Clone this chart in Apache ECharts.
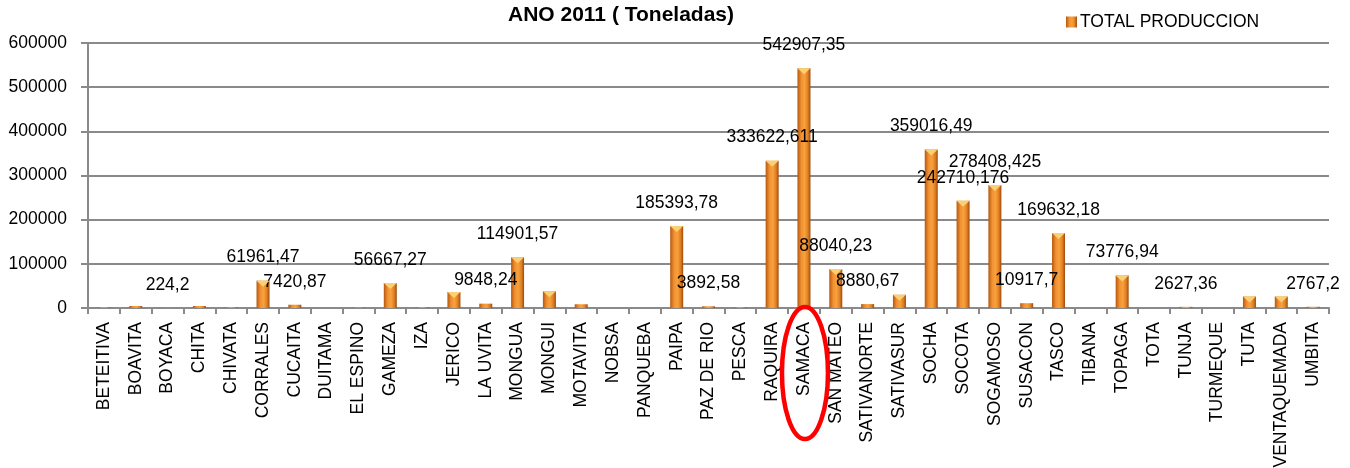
<!DOCTYPE html>
<html>
<head>
<meta charset="utf-8">
<script src="https://cdn.jsdelivr.net/npm/echarts@6/dist/echarts.min.js"></script>
<style>
  html, body { margin: 0; padding: 0; background: #ffffff; }
  #chart { width: 1350px; height: 468px; }
</style>
</head>
<body>
<div id="chart"></div>
<script>
// Producción por municipio, año 2011 (toneladas)
const municipios = [
  'BETEITIVA', 'BOAVITA', 'BOYACA', 'CHITA', 'CHIVATA', 'CORRALES', 'CUCAITA',
  'DUITAMA', 'EL ESPINO', 'GAMEZA', 'IZA', 'JERICO', 'LA UVITA', 'MONGUA',
  'MONGUI', 'MOTAVITA', 'NOBSA', 'PANQUEBA', 'PAIPA', 'PAZ DE RIO', 'PESCA',
  'RAQUIRA', 'SAMACA', 'SAN MATEO', 'SATIVANORTE', 'SATIVASUR', 'SOCHA',
  'SOCOTA', 'SOGAMOSO', 'SUSACON', 'TASCO', 'TIBANA', 'TOPAGA', 'TOTA',
  'TUNJA', 'TURMEQUE', 'TUTA', 'VENTAQUEMADA', 'UMBITA'
];

const produccion = [
  1800, 4500, 224.2, 4500, 1500, 61961.47, 7420.87,
  0, 1200, 56667.27, 1500, 36000, 9848.24, 114901.57,
  38000, 8500, 0, 0, 185393.78, 3892.58, 1500,
  333622.611, 542907.35, 88040.23, 8880.67, 30000, 359016.49,
  242710.176, 278408.425, 10917.7, 169632.18, 0, 73776.94, 0,
  2627.36, 0, 26000, 26000, 2767.2
];

// Municipios cuyo valor se rotula sobre la barra
const etiquetados = [
  'BOYACA', 'CORRALES', 'CUCAITA', 'GAMEZA', 'LA UVITA', 'MONGUA', 'PAIPA',
  'PAZ DE RIO', 'RAQUIRA', 'SAMACA', 'SAN MATEO', 'SATIVANORTE', 'SOCHA',
  'SOCOTA', 'SOGAMOSO', 'SUSACON', 'TASCO', 'TOPAGA', 'TUNJA', 'UMBITA'
];

const yTicks = [0, 100000, 200000, 300000, 400000, 500000, 600000];

const titulo = 'ANO 2011 ( Toneladas)';
const serieNombre = 'TOTAL PRODUCCION';
const resaltado = 'SAMACA';

const fuente = '"Liberation Sans", Arial, sans-serif';
const gris = '#8a8a8a';

const degradadoBarra = new echarts.graphic.LinearGradient(0, 0, 1, 0, [
  { offset: 0, color: '#b5580f' },
  { offset: 0.3, color: '#f29132' },
  { offset: 0.55, color: '#f7a23e' },
  { offset: 0.8, color: '#e07f22' },
  { offset: 1, color: '#9c4a0c' }
]);

const chart = echarts.init(document.getElementById('chart'), null, { renderer: 'canvas' });

chart.setOption({
  animation: false,
  backgroundColor: '#ffffff',
  title: {
    text: titulo,
    left: 616,
    top: 0,
    textAlign: 'center',
    textStyle: { fontFamily: fuente, fontSize: 21, fontWeight: 'bold', color: '#000000' }
  },
  legend: {
    data: [serieNombre],
    left: 1061,
    top: 8,
    icon: 'rect',
    itemWidth: 11,
    itemHeight: 11,
    itemGap: 5,
    textStyle: { fontFamily: fuente, fontSize: 17.5, color: '#000000', padding: [0, 0, 0, -2] }
  },
  grid: { left: 88, right: 21, top: 43, bottom: 160, containLabel: false, outerBoundsMode: 'none' },
  xAxis: {
    type: 'category',
    data: municipios,
    boundaryGap: true,
    axisLine: { show: true, lineStyle: { color: gris, width: 2 } },
    axisTick: { show: true, alignWithLabel: false, length: 6, lineStyle: { color: gris, width: 2 } },
    axisLabel: {
      interval: 0,
      rotate: 90,
      margin: 14,
      fontFamily: fuente,
      fontSize: 17.5,
      color: '#000000',
      hideOverlap: false
    },
    splitLine: { show: false }
  },
  yAxis: {
    type: 'value',
    min: yTicks[0],
    max: yTicks[yTicks.length - 1],
    interval: yTicks[1] - yTicks[0],
    axisLine: { show: true, lineStyle: { color: gris, width: 2 } },
    axisTick: { show: true, length: 7, lineStyle: { color: gris, width: 2 } },
    axisLabel: {
      margin: 21,
      fontFamily: fuente,
      fontSize: 17.5,
      color: '#000000',
      formatter: v => String(v)
    },
    splitLine: { show: true, lineStyle: { color: gris, width: 2 } }
  },
  series: [
    {
      name: serieNombre,
      type: 'bar',
      barWidth: 13,
      data: produccion.map((v, i) => ({
        value: v,
        label: { show: etiquetados.includes(municipios[i]) }
      })),
      itemStyle: { color: degradadoBarra },
      label: {
        position: 'top',
        distance: 14,
        fontFamily: fuente,
        fontSize: 17.5,
        color: '#000000',
        formatter: p => String(p.value).replace('.', ',')
      },
      z: 2
    },
    {
      // bisel claro en el extremo superior de cada barra
      name: 'bisel',
      type: 'pictorialBar',
      data: produccion.map(v => ({ value: v, symbol: v > 20000 ? 'triangle' : 'none' })),
      symbol: 'triangle',
      symbolRotate: 180,
      symbolSize: [13, 6],
      symbolPosition: 'end',
      symbolOffset: [0, 0],
      itemStyle: { color: '#fbcf74' },
      silent: true,
      legendHoverLink: false,
      z: 3
    }
  ]
});

// Óvalo rojo que resalta el municipio destacado
const cx = chart.convertToPixel({ xAxisIndex: 0 }, resaltado);
const y0 = chart.convertToPixel({ yAxisIndex: 0 }, 0);
chart.setOption({
  graphic: [{
    type: 'ellipse',
    shape: { cx: cx + 1, cy: y0 + 65, rx: 23, ry: 66 },
    style: { fill: 'none', stroke: '#ff0000', lineWidth: 4.5 },
    z: 10
  }]
});
</script>
</body>
</html>
